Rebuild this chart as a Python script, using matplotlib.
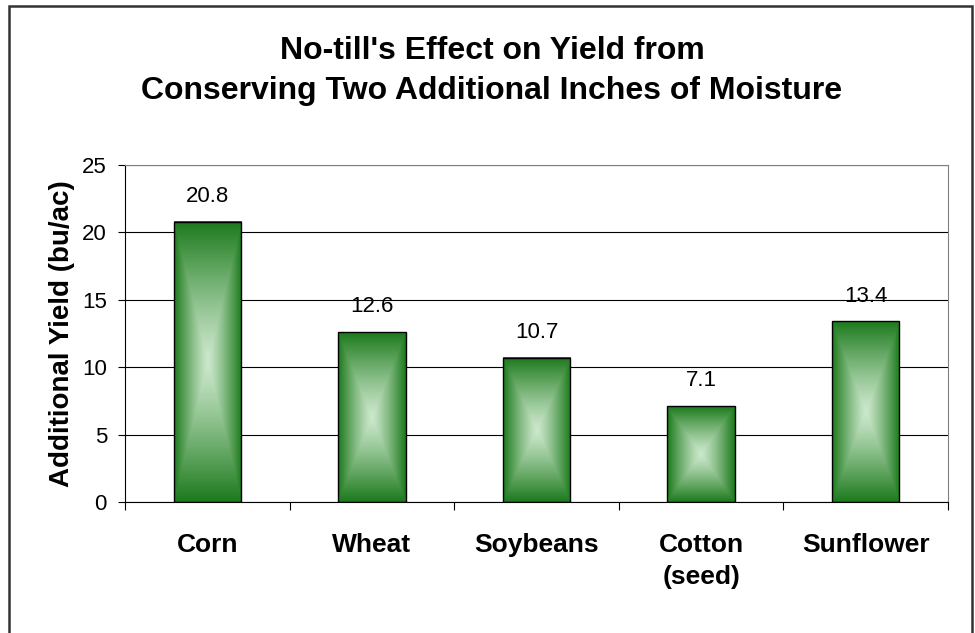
import numpy as np
import matplotlib
matplotlib.use("Agg")
import matplotlib.pyplot as plt
from matplotlib.patches import Rectangle

plt.rcParams['font.family'] = ['Liberation Sans', 'DejaVu Sans']

# Data
crops = ["Corn", "Wheat", "Soybeans", "Cotton\n(seed)", "Sunflower"]
extra_yield = [20.8, 12.6, 10.7, 7.1, 13.4]
yticks = [0, 5, 10, 15, 20, 25]

edge_col = np.array([0x1c, 0x7a, 0x1c]) / 255.0
center_col = np.array([0xcc, 0xe8, 0xcc]) / 255.0


def rect_gradient(n=200):
    # rectangular "from center" gradient: light middle, dark edges
    g = np.linspace(-1, 1, n)
    xx, yy = np.meshgrid(g, g)
    u = np.maximum(np.abs(xx), np.abs(yy))
    u = u ** 1.2
    img = center_col[None, None, :] * (1 - u[..., None]) + edge_col[None, None, :] * u[..., None]
    return img


fig = plt.figure(figsize=(9.75, 6.33), dpi=100)

# outer frame
fig.patches.append(Rectangle((9 / 975, -0.1), 963 / 975, 1.1 - 6 / 633,
                             transform=fig.transFigure, fill=False,
                             edgecolor="#333333", linewidth=1.8))

ax = fig.add_axes([125 / 975, 131 / 633, 823 / 975, 337 / 633])

x = np.arange(len(crops))
width = 0.41
grad = rect_gradient()
for xi, v in zip(x, extra_yield):
    ax.imshow(grad, extent=[xi - width / 2, xi + width / 2, 0, v],
              aspect='auto', zorder=2, interpolation='bilinear')
ax.bar(x, extra_yield, width=width, facecolor='none', edgecolor='black',
       linewidth=1.0, zorder=3)

# value labels
for xi, v in zip(x, extra_yield):
    ax.text(xi, v + 1.1, f"{v}", ha='center', va='bottom', fontsize=16)

ax.set_xlim(-0.5, len(crops) - 0.5)
ax.set_ylim(0, 25)
ax.set_yticks(yticks)
ax.tick_params(axis='y', labelsize=16, length=5, direction='out', width=0.8, pad=8)
ax.yaxis.grid(True, color='black', linewidth=0.8)
ax.set_axisbelow(True)

# category labels, ticks between categories
ax.set_xticks(np.arange(len(crops) + 1) - 0.5)
ax.set_xticklabels([])
ax.tick_params(axis='x', length=6, direction='out', width=0.8)
ax.set_xticks(x, minor=True)
ax.set_xticklabels(crops, minor=True, fontsize=19, fontweight='bold', va='top')
for lbl in ax.get_xticklabels(minor=True):
    lbl.set_linespacing(1.45)
ax.tick_params(axis='x', which='minor', length=0, pad=22)

ax.set_ylabel("Additional Yield (bu/ac)", fontsize=20, fontweight='bold', labelpad=5)

for s in ['top', 'right']:
    ax.spines[s].set_color('#808080')
for s in ['left', 'bottom']:
    ax.spines[s].set_color('black')

fig.text(492 / 975, 1 - 71 / 633,
         "No-till's Effect on Yield from\nConserving Two Additional Inches of Moisture",
         ha='center', va='center', fontsize=23, fontweight='bold', linespacing=1.45)

plt.savefig("out.png", dpi=100)
